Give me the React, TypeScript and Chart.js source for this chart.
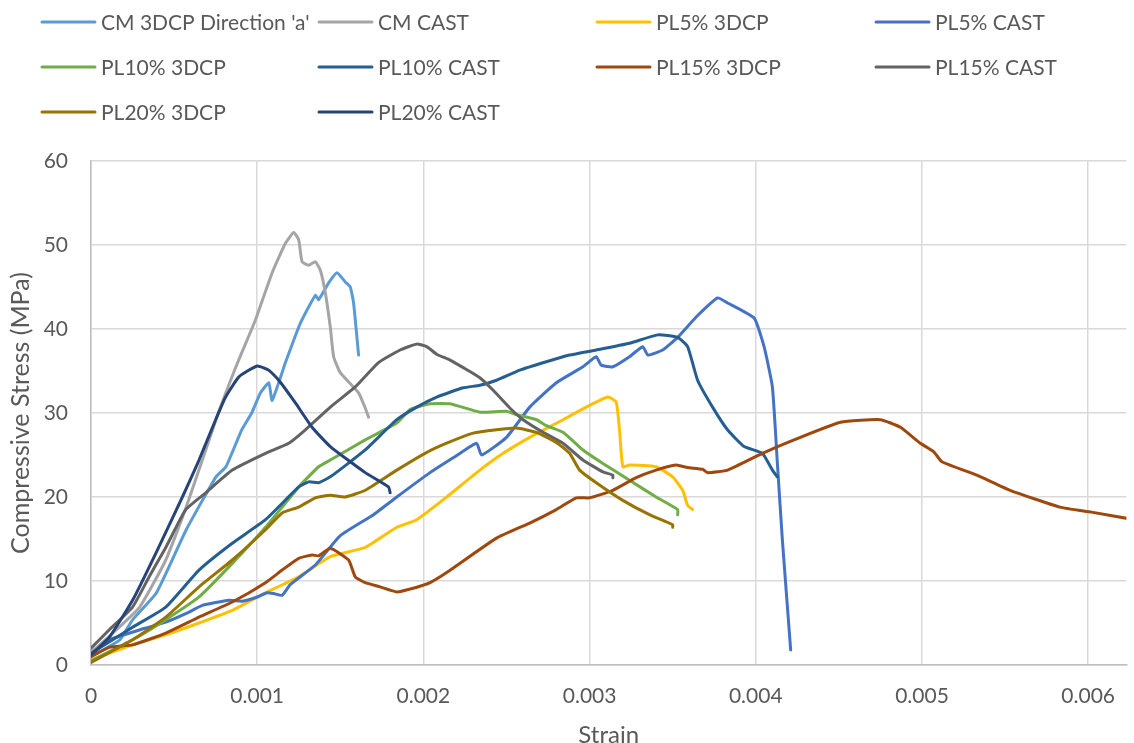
import React, { useEffect, useRef } from "react";
import { Chart, registerables } from "chart.js";

Chart.register(...registerables);

// ---- Data (strain, stress MPa) ----
const CM_3DCP_A: [number, number][] = [
  [0, 1.0], [0.000173, 3.0], [0.000251, 5.4], [0.000394, 8.6], [0.000573, 16.1],
  [0.000752, 22.4], [0.000812, 23.6], [0.000907, 28.0], [0.000967, 30.0], [0.00102, 32.4],
  [0.00107, 33.6], [0.00109, 31.5], [0.00117, 36.0], [0.00126, 40.7], [0.00135, 44.0],
  [0.00137, 43.5], [0.00143, 45.5], [0.00148, 46.7], [0.00153, 45.6], [0.00156, 45.0],
  [0.00158, 43.1], [0.00161, 36.9],
];
const CM_CAST: [number, number][] = [
  [0, 1.5], [0.00012, 3.6], [0.000293, 6.9], [0.00045, 12.5], [0.000573, 18.8], [0.000752, 29.2],
  [0.000872, 35.5], [0.00099, 41.1], [0.00109, 46.7], [0.00117, 50.2], [0.00122, 51.5],
  [0.00125, 50.6], [0.00127, 48.0], [0.00131, 47.6], [0.00135, 48.0], [0.00138, 47.0],
  [0.00141, 44.3], [0.00144, 40.2], [0.00146, 36.7], [0.0015, 34.8], [0.00161, 32.4],
  [0.00165, 30.6], [0.00167, 29.5],
];
const PL5_3DCP: [number, number][] = [
  [0, 0.6], [0.000054, 1.0], [0.00025, 2.4], [0.00045, 3.6], [0.00065, 5.0], [0.00085, 6.5], [0.00105, 8.6],
  [0.00125, 10.5], [0.00144, 12.9], [0.00165, 14.0], [0.00184, 16.4], [0.00196, 17.3],
  [0.00214, 20.0], [0.00234, 23.2], [0.00248, 25.2], [0.00264, 27.1], [0.00284, 29.2],
  [0.00298, 30.7], [0.00311, 31.9], [0.00316, 31.3], [0.00318, 28.0], [0.0032, 23.6],
  [0.00324, 23.8], [0.0034, 23.6], [0.0035, 22.4], [0.00356, 20.8], [0.00359, 19.0],
  [0.00362, 18.5],
];
const PL5_CAST: [number, number][] = [
  [0, 1.2], [0.00011, 3.0], [0.00033, 4.4], [0.00045, 5.1], [0.00059, 6.3], [0.00067, 7.1],
  [0.00083, 7.7], [0.00091, 7.6], [0.001, 8.1], [0.00106, 8.6], [0.0011, 8.5], [0.00115, 8.3],
  [0.0012, 9.6], [0.00135, 11.9], [0.0015, 15.4], [0.0017, 17.9], [0.00184, 20.0],
  [0.00204, 22.9], [0.00219, 24.8], [0.00232, 26.4], [0.00235, 25.0], [0.0025, 27.1],
  [0.00264, 30.7], [0.0028, 33.6], [0.00296, 35.5], [0.00304, 36.7], [0.00307, 35.7],
  [0.00314, 35.5], [0.00324, 36.7], [0.00332, 37.9], [0.00335, 36.9], [0.00344, 37.5],
  [0.00353, 39.0], [0.00364, 41.4], [0.00377, 43.7], [0.00383, 43.1], [0.00399, 41.3],
  [0.00405, 37.9], [0.0041, 33.1], [0.00413, 24.0], [0.00416, 14.9], [0.00421, 1.8],
];
const PL10_3DCP: [number, number][] = [
  [0, 0.5], [0.00025, 3.0], [0.00045, 5.4], [0.00065, 8.1], [0.00085, 12.1], [0.00105, 16.4],
  [0.00125, 21.2], [0.00137, 23.6], [0.00144, 24.4], [0.00165, 26.8], [0.00184, 28.8],
  [0.00192, 30.4], [0.00204, 31.1], [0.00216, 31.1], [0.00234, 30.1], [0.0025, 30.2],
  [0.00256, 29.8], [0.00268, 29.2], [0.00274, 28.5], [0.00284, 27.7], [0.00296, 25.6],
  [0.00308, 24.0], [0.00324, 22.0], [0.0034, 20.0], [0.00353, 18.5], [0.00353, 17.9],
];
const PL10_CAST: [number, number][] = [
  [0, 1.4], [0.000155, 3.3], [0.00025, 4.5], [0.00045, 6.9], [0.00065, 11.3], [0.00085, 14.5],
  [0.00105, 17.3], [0.00125, 21.2], [0.00131, 21.8], [0.00137, 21.7], [0.00144, 22.4],
  [0.00165, 25.6], [0.00184, 29.2], [0.00196, 30.7], [0.00208, 31.9], [0.00224, 33.0],
  [0.00234, 33.3], [0.00244, 33.9], [0.00258, 35.1], [0.00274, 36.1], [0.00288, 36.9],
  [0.00304, 37.5], [0.00324, 38.3], [0.00341, 39.3], [0.00353, 39.0], [0.00359, 37.9],
  [0.00365, 33.9], [0.00374, 30.7], [0.00383, 28.0], [0.00393, 26.0], [0.00404, 25.2],
  [0.0041, 23.2], [0.00413, 22.4],
];
const PL15_3DCP: [number, number][] = [
  [0, 1.0], [0.00011, 2.1], [0.00025, 2.4], [0.00045, 3.8], [0.00065, 5.7], [0.00085, 7.5],
  [0.00105, 9.8], [0.00115, 11.3], [0.00125, 12.7], [0.00133, 13.1], [0.00137, 13.0],
  [0.00144, 13.9], [0.00155, 12.5], [0.00159, 10.5], [0.00165, 9.8], [0.00174, 9.3],
  [0.00184, 8.7], [0.00195, 9.2], [0.00204, 9.8], [0.00214, 11.0], [0.00244, 15.1],
  [0.00264, 16.9], [0.0028, 18.5], [0.00292, 19.9], [0.003, 19.9], [0.00314, 20.8],
  [0.00328, 22.3], [0.0034, 23.2], [0.00352, 23.8], [0.00359, 23.5], [0.00368, 23.3],
  [0.00371, 22.9], [0.00383, 23.2], [0.00404, 25.2], [0.00423, 26.8], [0.00451, 28.9],
  [0.00475, 29.2], [0.00487, 28.3], [0.00499, 26.4], [0.00507, 25.4], [0.00512, 24.2],
  [0.00533, 22.6], [0.00553, 20.8], [0.00583, 18.8], [0.00602, 18.2], [0.00625, 17.4],
];
const PL15_CAST: [number, number][] = [
  [0, 2.0], [0.00011, 4.2], [0.00025, 6.9], [0.00035, 10.5], [0.00045, 14.0], [0.00057, 18.5],
  [0.00069, 20.5], [0.00085, 23.2], [0.00105, 25.2], [0.00119, 26.4], [0.00129, 28.0],
  [0.00144, 30.7], [0.00159, 33.1], [0.00173, 36.0], [0.00186, 37.5], [0.00196, 38.2],
  [0.00202, 37.9], [0.00208, 37.0], [0.00216, 36.3], [0.00224, 35.4], [0.00234, 34.2],
  [0.00242, 32.7], [0.00252, 30.6], [0.0026, 29.2], [0.00272, 27.7], [0.00284, 26.4],
  [0.00296, 24.4], [0.00308, 23.0], [0.00314, 22.6], [0.00314, 22.3],
];
const PL20_3DCP: [number, number][] = [
  [0, 0.3], [0.00025, 3.0], [0.00045, 5.7], [0.00065, 9.3], [0.00085, 12.5], [0.00105, 16.1],
  [0.00115, 18.1], [0.00125, 18.8], [0.00135, 19.9], [0.00144, 20.2], [0.00153, 20.0],
  [0.00165, 20.8], [0.00184, 23.2], [0.00201, 25.2], [0.00214, 26.4], [0.0023, 27.6],
  [0.00244, 28.0], [0.00256, 28.2], [0.00268, 27.7], [0.0028, 26.5], [0.00288, 25.2],
  [0.00294, 23.2], [0.00304, 21.7], [0.0032, 19.6], [0.00336, 17.9], [0.0035, 16.7],
  [0.0035, 16.4],
];
const PL20_CAST: [number, number][] = [
  [0, 1.2], [0.00011, 3.3], [0.00025, 7.7], [0.00039, 13.3], [0.00055, 20.0], [0.00065, 24.4],
  [0.00075, 29.2], [0.00081, 31.9], [0.00089, 34.3], [0.001, 35.6], [0.00107, 35.1],
  [0.00113, 33.9], [0.00123, 31.2], [0.00133, 28.3], [0.00144, 26.0], [0.00165, 22.9],
  [0.00179, 21.2], [0.0018, 20.5],
];

const SERIES_LABELS = [
  "CM 3DCP Direction 'a'", "CM CAST", "PL5% 3DCP", "PL5% CAST", "PL10% 3DCP",
  "PL10% CAST", "PL15% 3DCP", "PL15% CAST", "PL20% 3DCP", "PL20% CAST",
];
const SERIES_DATA = [
  CM_3DCP_A, CM_CAST, PL5_3DCP, PL5_CAST, PL10_3DCP,
  PL10_CAST, PL15_3DCP, PL15_CAST, PL20_3DCP, PL20_CAST,
];
const SERIES_COLORS = [
  "#5B9BD5", "#A5A5A5", "#FFC000", "#4472C4", "#70AD47",
  "#255E91", "#9E480E", "#636363", "#997300", "#264478",
];

const X_MAX = 0.00623;
const Y_MAX = 60;

const FONT = "Lato, 'Open Sans', sans-serif";
const TEXT = "#595959";

const legendPlugin = {
  id: "gridLegend",
  afterDraw(chart: any) {
    const ctx = chart.ctx;
    const colX = [42, 319, 597, 876];
    const rowY = [22, 67, 112];
    ctx.save();
    ctx.font = `21px ${FONT}`;
    ctx.textBaseline = "middle";
    ctx.textAlign = "left";
    chart.data.datasets.forEach((ds: any, i: number) => {
      const x = colX[i % 4];
      const y = rowY[Math.floor(i / 4)];
      ctx.strokeStyle = ds.borderColor;
      ctx.lineWidth = 3;
      ctx.lineCap = "round";
      ctx.beginPath();
      ctx.moveTo(x, y);
      ctx.lineTo(x + 53, y);
      ctx.stroke();
      ctx.fillStyle = TEXT;
      ctx.fillText(ds.label, x + 59, y + 1);
    });
    ctx.restore();
  },
};

export default function App() {
  const ref = useRef<HTMLCanvasElement>(null);
  useEffect(() => {
    if (!ref.current) return;
    const chart = new Chart(ref.current, {
      type: "line",
      data: {
        datasets: SERIES_LABELS.map((label, i) => ({
          label,
          data: SERIES_DATA[i].map(([x, y]) => ({ x, y })),
          borderColor: SERIES_COLORS[i],
          backgroundColor: SERIES_COLORS[i],
          borderWidth: 3,
          pointRadius: 0,
          tension: 0.15,
          fill: false,
          order: SERIES_LABELS.length - i,
          borderJoinStyle: "round" as const,
          borderCapStyle: "round" as const,
        })),
      },
      options: {
        animation: false,
        responsive: false,
        layout: { padding: { top: 161, left: 0, right: 0, bottom: 0 } },
        plugins: {
          legend: { display: false },
          tooltip: { enabled: false },
        },
        scales: {
          x: {
            type: "linear",
            min: 0,
            max: X_MAX,
            afterFit: (s: any) => { s.height = 78; },
            ticks: {
              stepSize: 0.001,
              includeBounds: false,
              padding: 19,
              color: TEXT,
              font: { family: FONT, size: 21 },
              maxRotation: 0,
              callback: (v: any) => (Number(v) === 0 ? "0" : Number(v).toFixed(3)),
            },
            grid: { color: "#D9D9D9", lineWidth: 1.5, drawTicks: false },
            border: { color: "#BFBFBF", width: 1.5 },
            title: {
              display: true,
              text: "Strain",
              color: TEXT,
              font: { family: FONT, size: 24, lineHeight: 1 },
              padding: { top: 0, bottom: -4 },
            },
          },
          y: {
            type: "linear",
            min: 0,
            max: Y_MAX,
            afterFit: (s: any) => { s.width = 91; },
            ticks: {
              stepSize: 10,
              padding: 23,
              color: TEXT,
              font: { family: FONT, size: 21 },
            },
            grid: { color: "#D9D9D9", lineWidth: 1.5, drawTicks: false },
            border: { color: "#BFBFBF", width: 1.5 },
            title: {
              display: true,
              text: "Compressive Stress (MPa)",
              color: TEXT,
              font: { family: FONT, size: 25, lineHeight: 1 },
              padding: { top: 8, bottom: 0 },
            },
          },
        },
      },
      plugins: [legendPlugin],
    });
    return () => chart.destroy();
  }, []);
  return (
    <div style={{ position: "absolute", left: 0, top: 0, width: 1134, height: 743, background: "#fff" }}>
      <canvas ref={ref} width={1134} height={743} style={{ width: 1134, height: 743 }} />
    </div>
  );
}
